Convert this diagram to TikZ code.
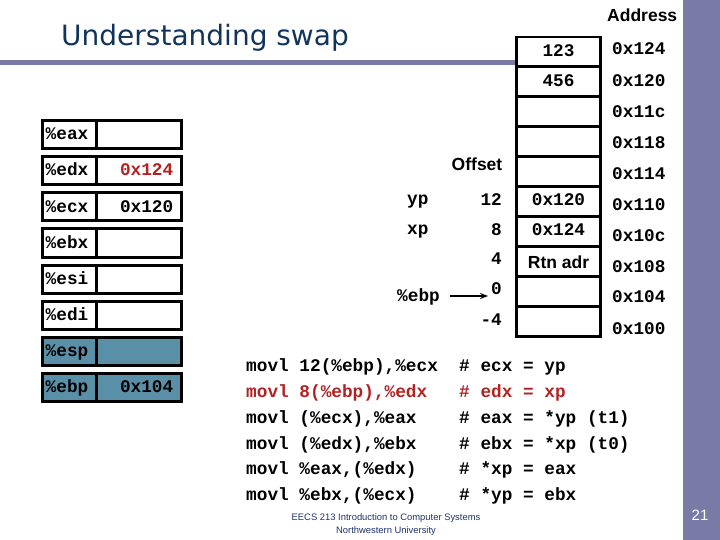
\documentclass[tikz,border=0pt]{standalone}
\usepackage{fontspec}
\setmainfont{Liberation Sans}
\setmonofont{Liberation Mono}
\newfontfamily\titlefont{DejaVu Sans}
\usetikzlibrary{arrows.meta}
\definecolor{sidebar}{RGB}{122,122,166}
\definecolor{titleblue}{RGB}{18,52,90}
\definecolor{regblue}{RGB}{90,143,168}
\definecolor{codered}{RGB}{178,34,34}
\definecolor{footblue}{RGB}{30,50,110}
\begin{document}
\begin{tikzpicture}[x=1pt,y=-1pt,
  mono/.style={font=\fontsize{17.75}{20}\selectfont\ttfamily\bfseries, inner sep=0pt},
  sansb/.style={font=\fontsize{17.5}{20}\selectfont\bfseries, inner sep=0pt},
  regbox/.style={draw=black, line width=3pt},
  membox/.style={draw=black, line width=2.7pt},
  arrowline/.style={line width=2pt, -{Stealth[length=8pt,width=6pt]}}]
\useasboundingbox (0,0) rectangle (720,540);
% background elements
\fill[sidebar] (683,0) rectangle (720,540);
\fill[sidebar] (0,60) rectangle (516,65.5);
% title
\node[font=\fontsize{28}{32}\selectfont\titlefont, text=titleblue, anchor=base west, inner sep=0pt] (title) at (61,46) {Understanding swap};
% registers
\foreach \n/\f [count=\i from 0] in {eax/white,edx/white,ecx/white,ebx/white,esi/white,edi/white,esp/regblue,ebp/regblue}{
  \pgfmathsetmacro\yt{121+36*\i}
  \pgfmathsetmacro\yb{149+36*\i}
  \pgfmathsetmacro\yc{140+36*\i}
  \draw[regbox, fill=\f] (42.5,\yt) rectangle (181.5,\yb);
  \draw[regbox] (96,\yt) -- (96,\yb);
  \node[mono, anchor=base west] (reg\n) at (45.5,\yc) {\%\n};
}
\node[mono, anchor=base east, text=codered] (valedx) at (173.5,176) {0x124};
\node[mono, anchor=base east] (valecx) at (173.5,212) {0x120};
\node[mono, anchor=base east] (valebp) at (173.5,392) {0x104};
% memory stack
\draw[membox] (516.5,37) rectangle (600.5,336.7);
\foreach \k in {0,...,8}{
  \draw[membox] (516.5,66.7+30*\k) -- (600.5,66.7+30*\k);
}
\node[mono, anchor=base] (m0) at (558.5,56.5) {123};
\node[mono, anchor=base] (m1) at (558.5,86.5) {456};
\node[mono, anchor=base] (m5) at (558.5,206) {0x120};
\node[mono, anchor=base] (m6) at (558.5,236) {0x124};
\node[sansb, anchor=base] (m7) at (558.5,268) {Rtn adr};
% addresses
\node[sansb, anchor=base west] (addrhdr) at (607,21.5) {Address};
\foreach \a/\y in {124/49,120/81,11c/112,118/143,114/174,110/205,10c/236,108/267,104/297,100/329}{
  \node[mono, anchor=base west] (addr\a) at (612,\y+5.5) {0x\a};
}
% offsets
\node[sansb, anchor=base east] (offhdr) at (502.5,171) {Offset};
\node[mono, anchor=base east] (off12) at (502,205.5) {12};
\node[mono, anchor=base east] (off8) at (502,235.5) {8};
\node[mono, anchor=base east] (off4) at (502,264.5) {4};
\node[mono, anchor=base east] (off0) at (502,294.5) {0};
\node[mono, anchor=base east] (offm4) at (502,325.5) {-4};
\node[mono, anchor=base west] (yp) at (407,205) {yp};
\node[mono, anchor=base west] (xp) at (407,235) {xp};
\node[mono, anchor=base west] (ebplbl) at (397,301) {\%ebp};
\coordinate (arrS) at (450,296);
\coordinate (arrE) at (488,296);
\draw[arrowline] (arrS) -- (arrE);
% code
\node[mono, anchor=base west] (c1) at (246,371) {movl 12(\%ebp),\%ecx};
\node[mono, anchor=base west] (k1) at (459,371) {\# ecx = yp};
\node[mono, anchor=base west, text=codered] (c2) at (246,397) {movl 8(\%ebp),\%edx};
\node[mono, anchor=base west, text=codered] (k2) at (459,397) {\# edx = xp};
\node[mono, anchor=base west] (c3) at (246,423) {movl (\%ecx),\%eax};
\node[mono, anchor=base west] (k3) at (459,423) {\# eax = *yp (t1)};
\node[mono, anchor=base west] (c4) at (246,449) {movl (\%edx),\%ebx};
\node[mono, anchor=base west] (k4) at (459,449) {\# ebx = *xp (t0)};
\node[mono, anchor=base west] (c5) at (246,474) {movl \%eax,(\%edx)};
\node[mono, anchor=base west] (k5) at (459,474) {\# *xp = eax};
\node[mono, anchor=base west] (c6) at (246,500) {movl \%ebx,(\%ecx)};
\node[mono, anchor=base west] (k6) at (459,500) {\# *yp = ebx};
% footer
\node[font=\fontsize{9.4}{13}\selectfont, text=footblue, align=center, inner sep=0pt] (footer) at (386,524.5) {EECS 213 Introduction to Computer Systems\\Northwestern University};
\node[font=\fontsize{15}{18}\selectfont, text=white, inner sep=0pt] (pagenum) at (700,515.5) {21};
\end{tikzpicture}
\end{document}
